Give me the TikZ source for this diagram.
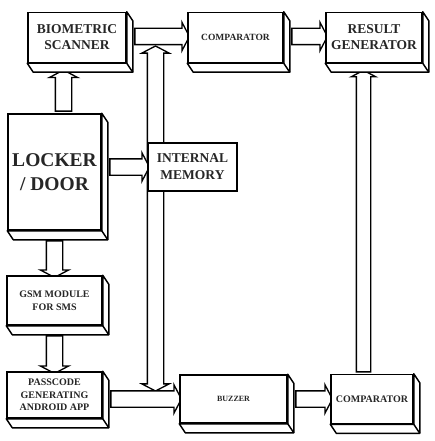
\documentclass[tikz,border=0pt]{standalone}
\usepackage{fontspec}
\setmainfont{Liberation Serif}
\usetikzlibrary{shapes.arrows, calc, backgrounds}
\tikzset{
    blockBox/.style={rectangle, draw, line width=1.5pt, fill=white, inner sep=0pt, align=center, text=black!85},
    boxFace/.style={draw, line width=1.5pt, fill=white, line join=round},
    blockArrow/.style={single arrow, draw, line width=1.3pt, fill=white, inner xsep=0pt, inner ysep=7.5pt, minimum width=0pt, single arrow head extend=6pt, single arrow tip angle=125},
    busArrow/.style={double arrow, draw, line width=1.3pt, fill=white, inner xsep=0pt, inner ysep=7.5pt, minimum width=0pt, double arrow head extend=5.5pt, double arrow tip angle=125},
}
\newcommand{\fsz}[2]{\fontsize{#1}{#2}\selectfont\bfseries}
\newcommand{\drawDepth}[1]{
    \draw[boxFace] (#1.north east) -- ++(6,9) -- ($(#1.south east)+(6,9)$) -- ($(#1.south west)+(6,9)$) -- (#1.south west) -- (#1.south east) -- cycle;
    \draw[boxFace] (#1.south east) -- ++(6,9);
}
\newcommand{\linkArrow}[3][blockArrow]{
    \path let \p1=(#2), \p2=(#3), \n1={veclen(\x2-\x1,\y2-\y1)}, \n2={atan2(\y2-\y1,\x2-\x1)} in
        node[#1, minimum height=\n1, rotate=\n2] at ($(\p1)!0.5!(\p2)$) {};
}

\begin{document}
\begin{tikzpicture}[x=1pt, y=-1pt]
    \useasboundingbox (0,0) rectangle (435,441);

    % top row
    \node[blockBox, minimum width=98pt, minimum height=50pt, font=\fsz{13.5}{16}] (bio) at (77,37.5) {BIOMETRIC\\SCANNER};
    \node[blockBox, minimum width=95pt, minimum height=50pt, font=\fsz{9.5}{11}] (cmpT) at (235.5,37.5) {COMPARATOR};
    \node[blockBox, minimum width=96pt, minimum height=50pt, font=\fsz{13.5}{16}] (res) at (374,37.5) {RESULT\\GENERATOR};

    % left column
    \node[blockBox, minimum width=93pt, minimum height=116pt, font=\fsz{19.5}{24}] (lock) at (54.5,172) {LOCKER\\/ DOOR};
    \node[blockBox, minimum width=95pt, minimum height=49pt, font=\fsz{10}{13}] (gsm) at (54.5,300.5) {GSM MODULE\\FOR SMS};
    \node[blockBox, minimum width=95pt, minimum height=46pt, font=\fsz{10}{12.5}] (pass) at (54.5,395) {PASSCODE\\GENERATING\\ANDROID APP};

    \node[blockBox, minimum width=89pt, minimum height=48pt, font=\fsz{13.5}{17}] (mem) at (192.5,167) {INTERNAL\\MEMORY};

    % bottom row
    \node[blockBox, minimum width=107pt, minimum height=48pt, font=\fsz{8}{10}] (buz) at (233.5,399) {BUZZER};
    \node[blockBox, minimum width=82pt, minimum height=49pt, font=\fsz{10}{12}] (cmpB) at (372,399) {COMPARATOR};

    \drawDepth{bio}
    \drawDepth{cmpT}
    \drawDepth{res}
    \drawDepth{lock}
    \drawDepth{gsm}
    \drawDepth{pass}
    \drawDepth{buz}
    \drawDepth{cmpB}

    \coordinate (busTop) at (155.5,46);
    \coordinate (busBot) at (155.5,391);
    \coordinate (resIn) at ($(res.south)+(-10.5,9)$);

    \begin{pgfonlayer}{background}
        \linkArrow[busArrow]{busBot}{busTop}
        \linkArrow{$(lock.north)+(9,0)$}{$(bio.south)+(-13.5,9)$}
        \linkArrow{$(bio.east)+(6,-1)$}{$(cmpT.west)+(0,-1)$}
        \linkArrow{$(cmpT.east)+(6,-1)$}{$(res.west)+(0,-1)$}
        \linkArrow{$(lock.east)+(6,-5)$}{mem.west}
        \linkArrow{$(lock.south)+(0,8)$}{gsm.north}
        \linkArrow{$(gsm.south)+(0,8)$}{pass.north}
        \linkArrow{$(pass.east)+(6,4)$}{buz.west}
        \linkArrow{$(buz.east)+(6,0)$}{cmpB.west}
        \linkArrow[blockArrow, inner ysep=6.5pt, single arrow head extend=5pt]{cmpB.north -| resIn}{resIn}
    \end{pgfonlayer}
\end{tikzpicture}
\end{document}
